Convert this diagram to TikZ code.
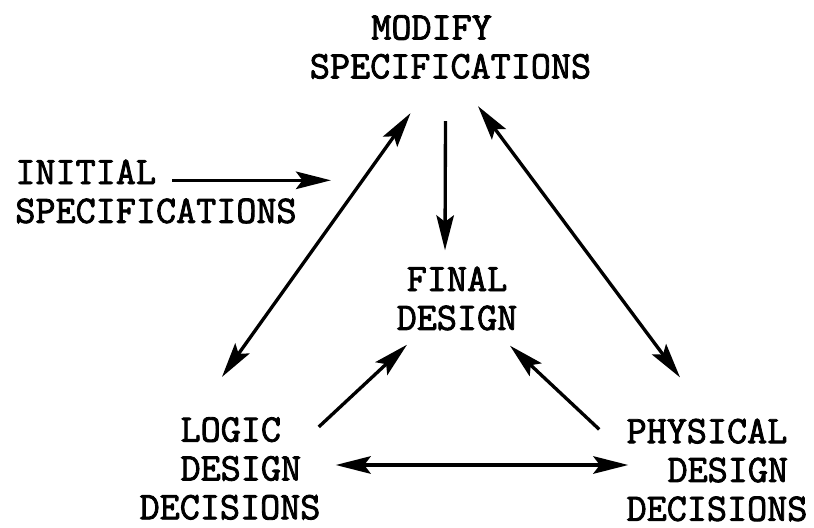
\documentclass[tikz,border=0pt]{standalone}
\usepackage{fontspec}
\newfontfamily\typer{Latin Modern Mono}[FakeBold=2.2]
\usetikzlibrary{arrows.meta,calc}

\begin{document}
\begin{tikzpicture}[x=0.02cm,y=-0.02cm,
        >={Stealth[length=7mm,width=3.5mm,inset=1.3mm]},
        every node/.style={inner sep=0pt,font=\typer\fontsize{22.2pt}{22.1pt}\selectfont},
        con/.style={line width=1.9pt}]
        \useasboundingbox (0,0) rectangle (814,527);

        \node[align=left] (modify) at (450.5,47) {\hspace*{1.575em}MODIFY\\SPECIFICATIONS};
        \node[align=left] (initial) at (156,191.5) {INITIAL\\SPECIFICATIONS};
        \node[align=center] (final) at (457,298.5) {FINAL\\DESIGN};
        \node[align=left] (logic) at (230,468.5) {\hspace*{1.05em}LOGIC\\\hspace*{1.05em}DESIGN\\DECISIONS};
        \node[align=left] (physical) at (717,470) {PHYSICAL\\\hspace*{1.05em}DESIGN\\DECISIONS};

        % input
        \draw[con,->] ($(initial.north west)+(157,21)$) -- ($(initial.north east)+(34,21)$);

        % outer triangle
        \draw[con,<->] ($(logic.north)+(-8,-40)$) -- ($(modify.south)+(-40,34)$);
        \draw[con,<->] ($(modify.south)+(27.5,27)$) -- ($(physical.north)+(-37,-41)$);
        \draw[con,<->] ($(logic.east)+(15,-3.5)$) -- ($(physical.west)+(2,-5)$);

        % into final design
        \draw[con,->] ($(modify.south)+(-5,42)$) -- ($(final.north)+(-12,-16)$);
        \draw[con,->] ($(logic.north east)+(-2,10)$) -- ($(final.south)+(-50,14)$);
        \draw[con,->] ($(physical.north west)+(-27,11)$) -- ($(final.south)+(53,15)$);
    \end{tikzpicture}
\end{document}
